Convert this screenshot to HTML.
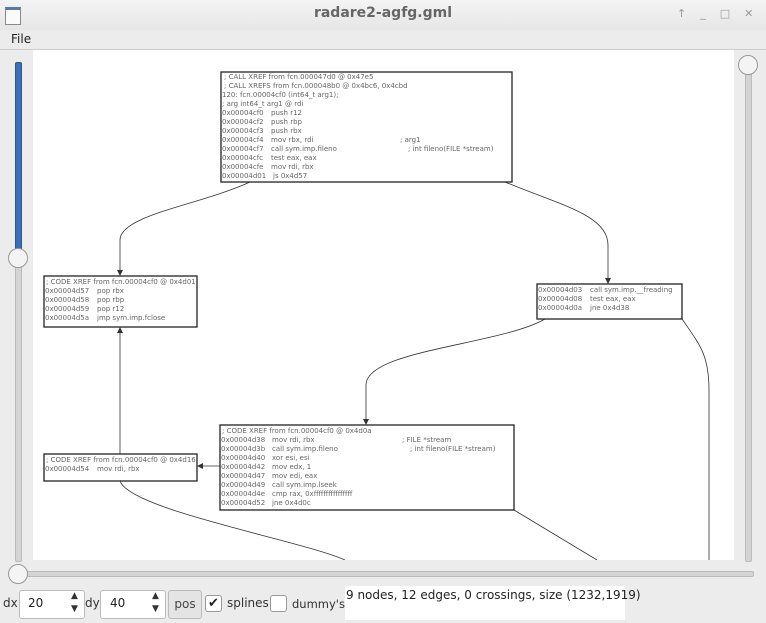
<!DOCTYPE html>
<html><head><style>
body{margin:0;width:766px;height:623px;overflow:hidden;background:#ececec;font-family:"DejaVu Sans","Liberation Sans",sans-serif;}
.a{position:absolute}
</style></head><body>
<div class="a" style="left:0;top:0;width:766px;height:30px;background:linear-gradient(#f4f4f4,#e6e6e6);"></div>
<div class="a" style="left:5px;top:7px;width:14px;height:14px;border:1px solid #888;background:#fafafa;border-top:3px solid #5a7aa8"></div>
<div class="a" style="left:0;top:5px;width:766px;text-align:center;font-size:14px;font-weight:bold;color:#666">radare2-agfg.gml</div>
<div class="a" style="left:677px;top:7px;font-size:11px;color:#999;letter-spacing:14px">↑_□✕</div>
<div class="a" style="left:11px;top:32px;font-size:12px;color:#222">File</div>
<div class="a" style="left:0;top:49px;width:766px;height:1px;background:#ccc"></div>
<div class="a" style="left:15px;top:62px;width:5px;height:498px;background:#d4d4d4;border-radius:2px;border:1px solid #bbb"></div>
<div class="a" style="left:15px;top:62px;width:5px;height:196px;background:#3d6fb8;border-radius:2px;border:1px solid #2c5590"></div>
<div class="a" style="left:8px;top:248px;width:18px;height:18px;border-radius:50%;background:#f4f4f4;border:1px solid #999"></div>
<div class="a" style="left:745px;top:62px;width:5px;height:498px;background:#d4d4d4;border-radius:2px;border:1px solid #bbb"></div>
<div class="a" style="left:738px;top:55px;width:18px;height:18px;border-radius:50%;background:#f4f4f4;border:1px solid #999"></div>
<div class="a" style="left:12px;top:571px;width:740px;height:4px;background:#d4d4d4;border:1px solid #bbb;border-radius:2px"></div>
<div class="a" style="left:8px;top:564px;width:18px;height:18px;border-radius:50%;background:#f4f4f4;border:1px solid #999"></div>
<svg class="a" style="left:33px;top:50px" width="701" height="510" viewBox="33 50 701 510" font-family="DejaVu Sans, Liberation Sans, sans-serif" font-size="7" fill="#666">
<rect x="33" y="50" width="701" height="510" fill="#fff"/>
<g fill="none" stroke="#333" stroke-width="0.8">
<path d="M250 182 C200 205 120 215 120 240 L120 274"/>
<path d="M505 182 C560 205 608 215 608 245 L608 282"/>
<path d="M545 319 C500 345 366 350 366 385 L366 423"/>
<path d="M120 454 L120 329"/>
<path d="M220 466 L199 466"/>
<path d="M120 481 C130 510 300 540 345 560"/>
<path d="M514 510 L597 560"/>
<path d="M682 319 C700 345 709 355 709 390 L709 560"/>
</g>
<g fill="#333">
<path d="M117 270 L123 270 L120 276Z"/>
<path d="M605 278 L611 278 L608 284Z"/>
<path d="M363 419 L369 419 L366 425Z"/>
<path d="M117 333 L123 333 L120 327Z"/>
<path d="M203 463 L203 469 L197 466Z"/>
</g>
<g fill="#fff" stroke="#222" stroke-width="1.3">
<rect x="221" y="72" width="291" height="110"/>
<rect x="44" y="276" width="153" height="51"/>
<rect x="537" y="284" width="145" height="35"/>
<rect x="220" y="425" width="294" height="85"/>
<rect x="44" y="454" width="153" height="27"/>
</g>
<g>
<text x="224" y="79">; CALL XREF from fcn.000047d0 @ 0x47e5</text>
<text x="224" y="88">; CALL XREFS from fcn.000048b0 @ 0x4bc6, 0x4cbd</text>
<text x="222" y="97">120: fcn.00004cf0 (int64_t arg1);</text>
<text x="222" y="106">; arg int64_t arg1 @ rdi</text>
<text x="222" y="115">0x00004cf0</text><text x="271" y="115">push r12</text>
<text x="222" y="124">0x00004cf2</text><text x="271" y="124">push rbp</text>
<text x="222" y="133">0x00004cf3</text><text x="271" y="133">push rbx</text>
<text x="222" y="142">0x00004cf4</text><text x="271" y="142">mov rbx, rdi</text><text x="400" y="142">; arg1</text>
<text x="222" y="151">0x00004cf7</text><text x="271" y="151">call sym.imp.fileno</text><text x="408" y="151">; int fileno(FILE *stream)</text>
<text x="222" y="160">0x00004cfc</text><text x="271" y="160">test eax, eax</text>
<text x="222" y="169">0x00004cfe</text><text x="271" y="169">mov rdi, rbx</text>
<text x="222" y="178">0x00004d01</text><text x="273" y="178">js 0x4d57</text>
<text x="46" y="284">; CODE XREF from fcn.00004cf0 @ 0x4d01</text>
<text x="45" y="293">0x00004d57</text><text x="97" y="293">pop rbx</text>
<text x="45" y="302">0x00004d58</text><text x="97" y="302">pop rbp</text>
<text x="45" y="311">0x00004d59</text><text x="97" y="311">pop r12</text>
<text x="45" y="320">0x00004d5a</text><text x="97" y="320">jmp sym.imp.fclose</text>
<text x="538" y="292">0x00004d03</text><text x="590" y="292">call sym.imp.__freading</text>
<text x="538" y="301">0x00004d08</text><text x="590" y="301">test eax, eax</text>
<text x="538" y="310">0x00004d0a</text><text x="590" y="310">jne 0x4d38</text>
<text x="222" y="433">; CODE XREF from fcn.00004cf0 @ 0x4d0a</text>
<text x="221" y="442">0x00004d38</text><text x="272" y="442">mov rdi, rbx</text><text x="402" y="442">; FILE *stream</text>
<text x="221" y="451">0x00004d3b</text><text x="272" y="451">call sym.imp.fileno</text><text x="410" y="451">; int fileno(FILE *stream)</text>
<text x="221" y="460">0x00004d40</text><text x="272" y="460">xor esi, esi</text>
<text x="221" y="469">0x00004d42</text><text x="272" y="469">mov edx, 1</text>
<text x="221" y="478">0x00004d47</text><text x="272" y="478">mov edi, eax</text>
<text x="221" y="487">0x00004d49</text><text x="272" y="487">call sym.imp.lseek</text>
<text x="221" y="496">0x00004d4e</text><text x="272" y="496">cmp rax, 0xffffffffffffffff</text>
<text x="221" y="505">0x00004d52</text><text x="272" y="505">jne 0x4d0c</text>
<text x="46" y="462">; CODE XREF from fcn.00004cf0 @ 0x4d16</text>
<text x="45" y="471">0x00004d54</text><text x="97" y="471">mov rdi, rbx</text>
</g>
</svg>
<div class="a" style="left:3px;top:596px;font-size:12px;color:#333">dx</div>
<div class="a" style="left:19px;top:590px;width:64px;height:27px;background:#fff;border:1px solid #bbb;border-radius:3px"></div>
<div class="a" style="left:28px;top:596px;font-size:12px;color:#222">20</div>
<div class="a" style="left:71px;top:590px;font-size:9px;color:#333;line-height:13px">▲<br>▼</div>
<div class="a" style="left:85px;top:596px;font-size:12px;color:#333">dy</div>
<div class="a" style="left:100px;top:590px;width:64px;height:27px;background:#fff;border:1px solid #bbb;border-radius:3px"></div>
<div class="a" style="left:110px;top:596px;font-size:12px;color:#222">40</div>
<div class="a" style="left:152px;top:590px;font-size:9px;color:#333;line-height:13px">▲<br>▼</div>
<div class="a" style="left:168px;top:590px;width:32px;height:27px;background:#e4e4e4;border:1px solid #bbb;border-radius:3px;font-size:12px;color:#444;text-align:center;line-height:27px">pos</div>
<div class="a" style="left:205px;top:595px;width:15px;height:15px;background:#fff;border:1px solid #999;border-radius:3px;font-size:13px;line-height:15px;text-align:center;color:#222">✔</div>
<div class="a" style="left:227px;top:596px;font-size:12px;color:#333">splines</div>
<div class="a" style="left:270px;top:595px;width:15px;height:15px;background:#fff;border:1px solid #999;border-radius:3px"></div>
<div class="a" style="left:292px;top:597px;font-size:11.5px;color:#333">dummy's</div>
<div class="a" style="left:345px;top:586px;width:280px;height:34px;background:#fff"></div>
<div class="a" style="left:346px;top:588px;font-size:12px;color:#222">9 nodes, 12 edges, 0 crossings, size (1232,1919)</div>
</body></html>
